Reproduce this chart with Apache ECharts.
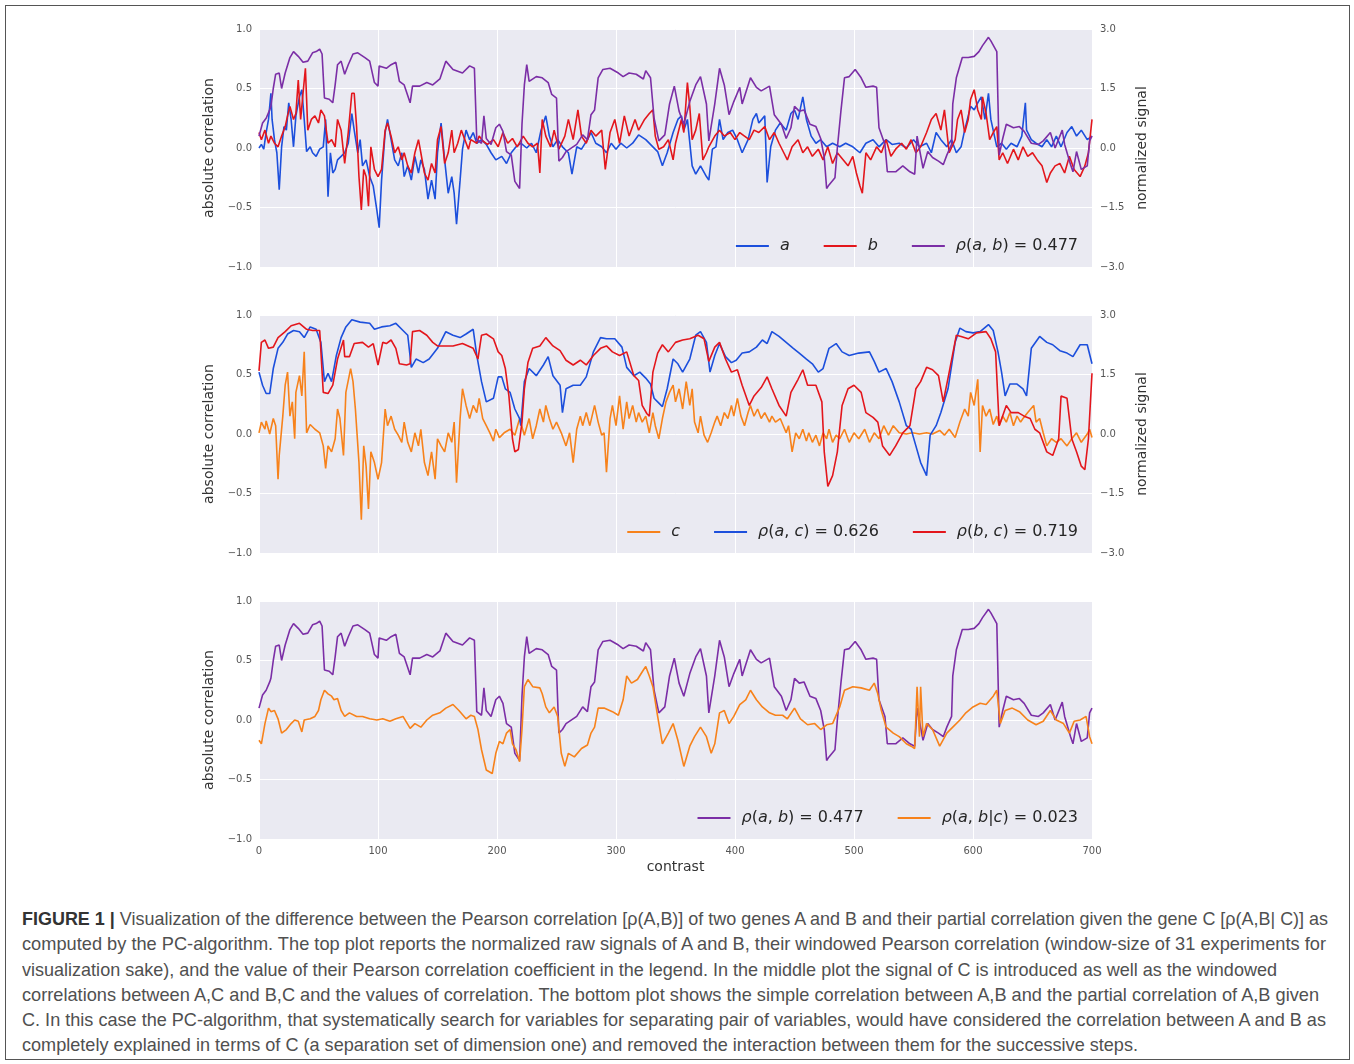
<!DOCTYPE html>
<html>
<head>
<meta charset="utf-8">
<script src="https://cdn.jsdelivr.net/npm/echarts@6/dist/echarts.min.js"></script>
<style>
  html, body { margin: 0; padding: 0; background: #fff; }
  #frame { position: absolute; left: 5px; top: 5px; width: 1343px; height: 1053px; border: 1px solid #555; }
  #chart { position: absolute; left: 0; top: 0; width: 1354px; height: 890px; }
  #caption { position: absolute; left: 22px; top: 906px; font-family: "Liberation Sans", Arial, sans-serif; font-size: 18.5px; color: #505050; line-height: 25.3px; white-space: nowrap; }
  #caption span.ln { display: inline-block; transform-origin: 0 50%; }
  #caption b { color: #333; }
</style>
</head>
<body>
<div id="frame"></div>
<div id="chart"></div>
<div id="caption">
<div><span class="ln"><b>FIGURE 1 |</b> Visualization of the difference between the Pearson correlation [ρ(A,B)] of two genes A and B and their partial correlation given the gene C [ρ(A,B| C)] as</span></div>
<div><span class="ln">computed by the PC-algorithm. The top plot reports the normalized raw signals of A and B, their windowed Pearson correlation (window-size of 31 experiments for</span></div>
<div><span class="ln">visualization sake), and the value of their Pearson correlation coefficient in the legend. In the middle plot the signal of C is introduced as well as the windowed</span></div>
<div><span class="ln">correlations between A,C and B,C and the values of correlation. The bottom plot shows the simple correlation between A,B and the partial correlation of A,B given</span></div>
<div><span class="ln">C. In this case the PC-algorithm, that systematically search for variables for separating pair of variables, would have considered the correlation between A and B as</span></div>
<div><span class="ln">completely explained in terms of C (a separation set of dimension one) and removed the interaction between them for the successive steps.</span></div>
</div>
<script>
// ---- tick labels ----
const xTicks = [0, 100, 200, 300, 400, 500, 600, 700];
const corrTicks = [-1.0, -0.5, 0.0, 0.5, 1.0];
const signalTicks = [-3.0, -1.5, 0.0, 1.5, 3.0];

// ---- legend labels ----
const legendA = 'a', legendB = 'b', legendC = 'c';
const rhoAbValue = '0.477', rhoAcValue = '0.626', rhoBcValue = '0.719', rhoAbGivenCValue = '0.023';

// ---- windowed correlation rho(a,b) [x, value] (left axis) ----
const rhoAB = [[0,0.10],[3,0.21],[6,0.25],[9,0.32],[10,0.35],[12,0.50],[14,0.62],[17,0.63],[19,0.50],[22,0.63],[26,0.76],[29,0.81],[33,0.77],[37,0.72],[41,0.73],[45,0.80],[48,0.81],[51,0.83],[53,0.79],[55,0.42],[59,0.41],[62,0.38],[64,0.53],[66,0.70],[69,0.73],[72,0.62],[75,0.70],[79,0.79],[83,0.80],[89,0.76],[93,0.73],[97,0.55],[100,0.52],[101,0.69],[107,0.67],[111,0.70],[115,0.72],[118,0.56],[122,0.53],[127,0.38],[129,0.52],[135,0.52],[141,0.55],[146,0.53],[152,0.58],[157,0.73],[163,0.66],[171,0.63],[177,0.69],[181,0.67],[183,0.07],[187,0.04],[189,0.27],[191,0.08],[195,0.03],[199,0.17],[202,0.20],[205,0.14],[208,-0.03],[212,-0.06],[215,-0.28],[219,-0.34],[221,0.20],[223,0.53],[225,0.70],[227,0.56],[233,0.60],[238,0.59],[243,0.55],[246,0.45],[250,0.42],[252,-0.11],[255,-0.08],[258,-0.03],[267,0.03],[272,0.11],[276,0.07],[279,0.28],[282,0.32],[285,0.59],[289,0.66],[295,0.67],[302,0.63],[306,0.60],[311,0.63],[317,0.62],[323,0.58],[325,0.65],[329,0.59],[332,0.25],[336,0.06],[341,0.11],[345,0.37],[349,0.52],[353,0.31],[357,0.20],[362,0.39],[367,0.53],[371,0.60],[376,0.37],[378,0.06],[383,0.37],[387,0.67],[391,0.53],[395,0.28],[399,0.39],[404,0.51],[406,0.37],[413,0.59],[418,0.51],[422,0.48],[429,0.52],[433,0.28],[439,0.20],[443,0.08],[447,0.17],[450,0.35],[454,0.31],[458,0.32],[463,0.20],[468,0.18],[472,0.08],[475,-0.08],[477,-0.34],[479,-0.31],[484,-0.25],[486,0.0],[489,0.31],[492,0.59],[496,0.60],[501,0.66],[506,0.59],[510,0.51],[516,0.52],[519,0.51],[521,0.17],[526,0.03],[528,-0.20],[535,-0.20],[541,-0.15],[547,-0.20],[551,-0.22],[553,0.10],[558,-0.17],[562,-0.03],[566,-0.08],[571,-0.11],[575,-0.14],[578,-0.06],[582,0.03],[583,0.37],[586,0.59],[591,0.76],[596,0.76],[601,0.77],[605,0.81],[608,0.86],[613,0.93],[615,0.90],[620,0.81],[622,-0.06],[625,0.08],[628,0.20],[634,0.17],[639,0.18],[643,0.14],[649,0.04],[655,0.03],[659,0.06],[665,0.13],[669,0.0],[675,0.15],[677,0.03],[682,-0.14],[684,-0.20],[687,-0.03],[691,-0.18],[696,-0.15],[698,0.06],[700,0.10]];

// ---- partial correlation rho(a,b|c) ----
const rhoABgivenC = [[0,-0.17],[2,-0.20],[5,-0.03],[8,0.10],[10,0.07],[13,0.08],[16,0.01],[19,-0.11],[23,-0.08],[27,-0.03],[30,0.0],[33,-0.01],[36,-0.10],[38,0.0],[43,0.01],[47,0.03],[50,0.08],[52,0.17],[55,0.25],[58,0.22],[61,0.20],[63,0.17],[66,0.18],[69,0.08],[72,0.03],[76,0.06],[82,0.03],[87,0.03],[93,0.01],[99,0.0],[104,0.01],[110,-0.01],[115,0.01],[121,0.03],[127,-0.07],[131,-0.03],[136,-0.06],[141,0.0],[146,0.04],[152,0.06],[157,0.10],[163,0.13],[168,0.08],[174,0.01],[178,0.04],[181,0.03],[184,-0.08],[187,-0.25],[191,-0.42],[196,-0.45],[199,-0.28],[202,-0.18],[205,-0.20],[208,-0.11],[211,-0.08],[213,-0.20],[216,-0.25],[219,-0.35],[221,-0.08],[223,0.28],[226,0.34],[230,0.28],[236,0.27],[238,0.22],[241,0.11],[244,0.06],[248,0.11],[251,0.03],[254,-0.28],[257,-0.39],[260,-0.28],[265,-0.31],[271,-0.24],[276,-0.21],[279,-0.11],[282,-0.06],[285,0.10],[290,0.10],[297,0.07],[302,0.04],[306,0.17],[309,0.37],[313,0.31],[318,0.34],[323,0.42],[325,0.45],[328,0.37],[331,0.28],[335,0.03],[339,-0.20],[344,-0.11],[348,-0.03],[352,-0.17],[357,-0.39],[362,-0.22],[366,-0.14],[371,-0.06],[376,-0.14],[380,-0.28],[383,-0.20],[387,0.06],[391,0.08],[395,-0.03],[399,0.03],[404,0.13],[409,0.17],[413,0.25],[418,0.17],[423,0.11],[429,0.06],[434,0.04],[440,0.04],[444,0.01],[450,0.10],[455,0.01],[461,-0.04],[467,-0.03],[472,-0.08],[477,-0.04],[482,-0.03],[488,0.11],[492,0.25],[499,0.28],[506,0.27],[513,0.25],[517,0.31],[520,0.22],[523,0.08],[527,-0.06],[533,-0.11],[538,-0.14],[544,-0.20],[548,-0.22],[551,-0.24],[553,0.28],[555,-0.14],[556,0.28],[558,-0.14],[561,-0.03],[566,-0.08],[572,-0.22],[578,-0.11],[583,-0.06],[589,0.0],[594,0.06],[600,0.11],[606,0.14],[611,0.13],[617,0.20],[620,0.25],[623,-0.03],[627,0.08],[633,0.10],[639,0.07],[646,0.0],[653,-0.04],[659,-0.01],[665,0.08],[670,0.0],[676,-0.03],[681,-0.11],[685,-0.01],[690,0.0],[695,0.03],[698,-0.14],[700,-0.20]];

// ---- windowed correlation rho(a,c) ----
const rhoAC = [[0,0.52],[3,0.41],[6,0.34],[9,0.34],[12,0.55],[16,0.72],[20,0.77],[24,0.84],[29,0.87],[34,0.86],[38,0.81],[43,0.90],[48,0.88],[52,0.77],[55,0.44],[58,0.51],[61,0.44],[65,0.66],[69,0.81],[73,0.90],[78,0.96],[85,0.94],[93,0.93],[97,0.88],[103,0.90],[110,0.91],[115,0.93],[121,0.87],[125,0.83],[128,0.56],[132,0.63],[138,0.60],[143,0.63],[150,0.72],[157,0.86],[163,0.83],[169,0.81],[174,0.84],[180,0.88],[183,0.66],[187,0.44],[191,0.27],[197,0.30],[201,0.48],[204,0.48],[207,0.38],[211,0.35],[215,0.21],[219,0.13],[220,0.07],[223,0.44],[227,0.55],[233,0.49],[239,0.58],[243,0.65],[247,0.49],[253,0.41],[255,0.18],[258,0.38],[264,0.41],[270,0.41],[275,0.48],[281,0.69],[287,0.81],[292,0.80],[299,0.80],[305,0.73],[309,0.56],[315,0.49],[320,0.52],[325,0.47],[329,0.42],[332,0.30],[335,0.27],[339,0.23],[343,0.38],[348,0.63],[352,0.59],[356,0.52],[362,0.63],[367,0.83],[371,0.86],[376,0.77],[379,0.52],[383,0.66],[387,0.76],[392,0.65],[397,0.60],[401,0.62],[406,0.68],[412,0.69],[418,0.73],[423,0.79],[427,0.76],[431,0.86],[437,0.82],[443,0.77],[449,0.72],[454,0.68],[460,0.63],[465,0.59],[470,0.52],[474,0.55],[479,0.72],[485,0.76],[490,0.69],[496,0.66],[504,0.68],[513,0.69],[517,0.61],[521,0.52],[527,0.55],[532,0.44],[538,0.27],[544,0.07],[548,0.04],[552,-0.10],[556,-0.24],[561,-0.35],[564,-0.01],[569,0.07],[573,0.18],[579,0.38],[585,0.77],[589,0.89],[594,0.86],[600,0.85],[606,0.86],[613,0.92],[617,0.87],[621,0.69],[624,0.52],[627,0.32],[631,0.42],[637,0.42],[642,0.38],[645,0.32],[649,0.72],[656,0.82],[662,0.77],[667,0.75],[673,0.70],[679,0.68],[684,0.65],[690,0.75],[696,0.75],[700,0.59]];

// ---- windowed correlation rho(b,c) ----
const rhoBC = [[0,0.53],[2,0.77],[5,0.79],[8,0.72],[12,0.73],[16,0.81],[22,0.86],[27,0.91],[34,0.93],[40,0.88],[45,0.87],[51,0.87],[54,0.35],[58,0.34],[62,0.41],[66,0.63],[71,0.79],[72,0.65],[76,0.65],[80,0.76],[87,0.77],[92,0.73],[96,0.76],[100,0.58],[104,0.77],[107,0.76],[111,0.79],[115,0.72],[118,0.59],[124,0.58],[127,0.59],[129,0.86],[135,0.87],[141,0.83],[146,0.77],[150,0.74],[157,0.74],[163,0.74],[171,0.76],[180,0.72],[184,0.63],[187,0.83],[191,0.84],[197,0.80],[201,0.69],[204,0.66],[207,0.55],[210,0.32],[213,-0.04],[215,-0.15],[218,-0.13],[221,0.10],[223,0.38],[226,0.60],[230,0.72],[236,0.74],[241,0.81],[247,0.74],[253,0.70],[258,0.62],[264,0.58],[270,0.62],[275,0.58],[281,0.66],[287,0.72],[292,0.74],[297,0.69],[303,0.66],[309,0.69],[315,0.49],[319,0.45],[322,0.24],[326,0.17],[328,0.15],[331,0.52],[335,0.68],[339,0.75],[344,0.69],[350,0.77],[356,0.79],[362,0.80],[369,0.83],[374,0.80],[378,0.61],[383,0.73],[387,0.77],[392,0.63],[397,0.52],[402,0.54],[406,0.41],[412,0.24],[416,0.32],[422,0.39],[427,0.48],[431,0.38],[437,0.24],[443,0.15],[447,0.35],[453,0.46],[457,0.54],[461,0.41],[468,0.41],[473,0.27],[475,-0.15],[478,-0.44],[482,-0.35],[486,-0.15],[490,0.24],[495,0.38],[500,0.41],[506,0.35],[510,0.18],[516,0.14],[520,0.10],[524,-0.10],[530,-0.18],[535,-0.10],[541,0.01],[547,0.07],[552,0.38],[556,0.44],[561,0.56],[566,0.54],[571,0.49],[575,0.27],[580,0.52],[586,0.83],[590,0.82],[596,0.80],[603,0.85],[611,0.86],[615,0.80],[619,0.69],[622,0.07],[628,0.24],[632,0.18],[638,0.18],[643,0.15],[648,0.13],[652,0.04],[656,0.01],[662,-0.15],[667,-0.18],[672,-0.04],[674,0.32],[679,0.30],[683,-0.04],[687,-0.15],[691,-0.27],[694,-0.30],[697,-0.04],[700,0.51]];

// ---- normalized signal of gene A (right axis) ----
const signalA = [[0,0],[2,0.09],[4,-0.03],[6,0.39],[8,0.72],[10,1.38],[11,0.72],[13,0.21],[15,-0.12],[17,-1.05],[19,0.03],[21,0.54],[23,0.45],[25,1.14],[27,0.72],[29,0.03],[31,0.81],[34,1.29],[36,1.47],[38,0.72],[40,-0.09],[43,0.03],[45,-0.12],[48,-0.21],[51,-0.03],[54,0.03],[56,0.72],[58,-1.23],[60,-0.12],[62,-0.63],[64,-0.54],[66,-0.30],[69,-0.21],[72,-0.12],[75,0.12],[78,0.87],[80,0.45],[83,-0.12],[85,0.21],[87,-0.45],[90,-0.30],[93,-0.72],[96,-0.96],[99,-1.56],[101,-2.01],[103,-0.81],[106,0.39],[108,0.72],[111,0.21],[114,-0.30],[117,-0.45],[120,-0.12],[122,-0.72],[125,-0.45],[128,-0.81],[131,-0.21],[134,-0.63],[136,-0.30],[139,-0.54],[142,-1.29],[145,-0.81],[148,-1.29],[150,-0.12],[153,0.63],[156,-0.30],[159,-1.14],[162,-0.72],[164,-1.14],[166,-1.92],[169,-0.81],[171,-0.03],[174,0.45],[177,0.21],[180,0.39],[183,0.12],[187,0.21],[191,0.09],[195,-0.12],[199,-0.30],[204,-0.21],[208,-0.39],[212,-0.12],[216,0.03],[220,0.12],[225,0],[229,0.12],[233,-0.12],[237,0.45],[241,0.81],[244,0.30],[247,0.03],[251,0.21],[255,0.03],[260,-0.12],[263,-0.66],[267,0.03],[271,-0.03],[276,0.21],[279,0.39],[283,0.12],[288,0.03],[292,-0.12],[296,0.12],[300,-0.03],[304,0.12],[309,0],[314,0.12],[319,0.33],[325,0.21],[331,0.03],[335,-0.09],[339,-0.45],[343,-0.12],[348,0.39],[352,0.72],[355,0.81],[357,0.45],[360,0.72],[364,-0.45],[367,-0.66],[371,-0.45],[376,-0.72],[378,-0.81],[381,-0.03],[384,0.03],[387,0.72],[390,0.21],[394,0.39],[398,0.45],[402,0.21],[406,-0.12],[411,0.21],[415,0.72],[418,0.87],[420,0.63],[425,0.81],[427,-0.87],[430,0.03],[434,0.45],[438,0.63],[443,0.45],[447,0.87],[450,0.96],[453,0.72],[457,1.29],[460,0.72],[464,0.30],[468,0.12],[472,0.21],[477,0.03],[482,0.12],[488,0.03],[493,0.12],[499,0.03],[505,-0.12],[510,0.12],[516,0.21],[521,0.03],[527,0.21],[532,0.09],[538,0.12],[544,0],[550,0.21],[555,0.03],[561,0.12],[565,-0.12],[569,0.39],[573,0.21],[578,0.03],[582,0.21],[586,-0.12],[590,0.03],[593,0.45],[596,0.81],[598,1.05],[601,0.96],[604,1.14],[607,1.29],[610,0.72],[613,1.38],[615,0.72],[620,0.03],[624,0.12],[628,-0.03],[632,0.12],[637,0.03],[641,0.30],[644,1.14],[645,0.45],[649,0.21],[653,0.12],[658,0.03],[662,0.21],[666,0.03],[670,0.30],[674,0.03],[679,0.39],[683,0.54],[687,0.30],[691,0.45],[696,0.21],[700,0.30]];

// ---- normalized signal of gene B (right axis) ----
const signalB = [[0,0.39],[2,0.21],[5,0.45],[8,0.12],[10,0.30],[13,0.12],[16,0.03],[19,0.30],[22,0.54],[24,0.81],[26,1.05],[29,0.72],[31,0.87],[33,1.71],[35,0.72],[37,1.38],[39,2.01],[41,0.45],[44,0.72],[47,0.81],[50,0.63],[52,0.96],[55,0.81],[58,0.12],[61,0.21],[64,0.03],[66,0.72],[69,0.45],[72,-0.39],[75,0.39],[78,1.38],[80,1.38],[82,0.54],[84,-0.72],[86,-1.56],[88,-0.54],[90,-0.72],[92,-1.47],[94,0.03],[97,-0.54],[100,-0.72],[103,-0.54],[106,0.45],[108,0.63],[111,0.30],[114,-0.12],[117,0.03],[120,-0.30],[122,-0.12],[125,-0.45],[128,-0.63],[131,-0.12],[134,0.21],[136,-0.12],[139,-0.63],[142,-0.81],[145,-0.39],[148,-0.63],[150,0.21],[153,0.54],[156,-0.39],[159,-0.12],[162,0.45],[164,-0.12],[167,0.12],[170,0.45],[173,0.21],[176,-0.03],[178,0.21],[183,0.12],[185,0.30],[188,0.18],[192,0.09],[197,0.21],[201,0.03],[205,0.39],[209,0.12],[213,0.24],[217,0.03],[222,0.30],[226,0.12],[230,0.03],[234,0.12],[236,-0.63],[238,0.72],[241,0.30],[245,0.03],[248,0.45],[252,-0.03],[257,0.30],[260,0.72],[264,0.21],[268,0.96],[271,0.30],[275,0.12],[279,0.45],[283,0.30],[288,0.45],[291,-0.54],[295,0.39],[299,0.72],[303,0.12],[307,0.81],[311,0.30],[316,0.72],[319,0.45],[324,0.72],[328,0.87],[331,0.96],[333,0.30],[336,-0.03],[340,0.03],[344,0.21],[348,-0.30],[350,0.12],[355,0.72],[357,0.39],[360,1.65],[362,1.05],[364,0.21],[367,0.45],[370,0.87],[373,-0.30],[376,-0.12],[378,0.03],[383,0.30],[387,0.45],[391,0.30],[396,0.39],[400,0.21],[404,0.39],[408,0.30],[412,0.21],[416,0.45],[420,0.39],[425,0.54],[429,0.21],[433,0.39],[437,0.12],[441,-0.12],[444,-0.30],[448,0.03],[453,0.21],[457,-0.12],[461,0.03],[465,-0.21],[470,-0.03],[474,-0.30],[478,0.03],[482,-0.39],[486,-0.12],[491,-0.30],[495,-0.45],[499,-0.21],[502,-0.63],[505,-0.96],[507,-1.14],[510,-0.12],[514,-0.30],[519,0.03],[523,-0.12],[527,0.21],[531,-0.21],[535,-0.03],[540,0.12],[544,-0.03],[548,0.21],[552,-0.12],[556,0.03],[561,0.39],[565,0.72],[569,0.87],[573,0.45],[576,0.96],[580,-0.12],[585,0.21],[587,0.72],[590,0.96],[593,0.39],[596,0.72],[598,1.23],[601,1.47],[604,0.96],[607,0.72],[608,1.29],[611,0.87],[614,0.21],[617,0.39],[620,0.54],[622,-0.30],[625,-0.12],[629,-0.39],[634,-0.03],[638,-0.30],[642,0.03],[646,-0.21],[650,-0.12],[654,-0.30],[658,-0.45],[662,-0.87],[665,-0.63],[669,-0.45],[673,-0.39],[677,-0.63],[681,-0.21],[685,-0.54],[690,-0.72],[694,-0.45],[697,-0.12],[700,0.72]];

// ---- normalized signal of gene C (right axis) ----
const signalC = [[0,0.03],[2,0.30],[5,0.12],[6,0.33],[9,0],[12,0.39],[14,0.21],[16,-1.14],[17,-0.54],[20,0.45],[22,1.23],[24,1.56],[26,0.45],[28,0.81],[30,-0.12],[31,1.05],[34,1.47],[36,0.96],[38,2.07],[40,0.03],[43,0.24],[47,0.12],[51,0.03],[54,-0.30],[56,-0.87],[58,-0.30],[61,-0.45],[64,-0.12],[66,0.63],[68,0.39],[71,-0.54],[73,1.05],[77,1.65],[79,1.32],[81,0.63],[84,-0.72],[86,-2.16],[88,-0.30],[90,-0.81],[92,-1.89],[94,-0.45],[97,-0.72],[100,-1.14],[103,-0.72],[106,0.63],[108,0.21],[111,0.45],[114,0.12],[117,-0.03],[120,-0.21],[122,0.30],[125,-0.21],[128,-0.45],[131,0.03],[134,-0.30],[136,0.12],[139,-0.72],[142,-1.05],[145,-0.45],[148,-1.14],[150,-0.12],[153,-0.30],[156,-0.45],[159,0.03],[162,-0.21],[164,0.30],[166,-1.23],[169,0.39],[171,1.14],[174,0.72],[177,0.39],[180,0.72],[183,0.54],[185,0.90],[188,0.39],[191,0.21],[194,0.03],[197,-0.18],[199,0.12],[202,-0.09],[206,0.03],[211,0.12],[215,-0.03],[219,0.39],[223,-0.03],[227,0.39],[230,-0.12],[233,0.21],[236,0.63],[239,0.30],[241,0.72],[244,0.39],[247,0.12],[250,0.30],[254,0.03],[258,-0.30],[261,0.03],[264,-0.72],[267,0.12],[270,0.45],[272,0.21],[275,0.54],[278,0.21],[282,0.72],[285,0.30],[288,-0.03],[290,0.03],[292,-0.96],[295,0.39],[297,0.72],[300,0.21],[303,0.96],[306,0.12],[309,0.81],[311,0.39],[314,0.72],[317,0.30],[319,0.54],[322,0.30],[325,0.45],[328,0.03],[331,0.54],[333,0.21],[336,-0.12],[339,0.39],[342,0.81],[345,1.05],[348,1.23],[350,0.81],[353,1.14],[356,0.63],[359,1.32],[362,0.72],[364,1.14],[366,0.30],[369,0.03],[371,0.45],[374,-0.03],[377,-0.21],[380,0.03],[383,0.30],[385,0.45],[388,0.21],[391,0.54],[394,0.39],[397,0.72],[399,0.45],[402,0.90],[405,0.45],[408,0.21],[411,0.54],[413,0.72],[416,0.45],[419,0.63],[422,0.39],[425,0.54],[429,0.30],[431,0.45],[434,0.30],[438,0.39],[443,0.03],[445,0.21],[448,-0.45],[451,0.03],[454,-0.12],[457,0.12],[460,-0.18],[462,0.03],[465,-0.21],[468,-0.03],[471,-0.30],[474,0.03],[477,-0.12],[479,0.12],[482,-0.21],[485,-0.03],[488,-0.12],[492,0.12],[496,-0.21],[500,0.03],[504,-0.12],[509,0.12],[513,-0.21],[517,0.03],[521,-0.12],[525,0.21],[529,-0.03],[533,0.21],[538,0.03],[544,0],[549,0.03],[555,0],[561,0.03],[566,0],[572,0.09],[576,-0.03],[580,0.12],[585,-0.09],[589,0.30],[593,0.63],[596,0.45],[598,1.05],[601,0.72],[604,1.38],[606,-0.45],[608,0.72],[611,0.45],[614,0.63],[617,0.24],[620,0.45],[622,0.21],[625,0.45],[628,0.30],[631,0.54],[634,0.21],[637,0.45],[640,0.30],[642,0.39],[646,0.54],[651,0.72],[653,0.30],[656,0.39],[659,0.03],[662,-0.30],[666,-0.12],[670,-0.21],[674,-0.12],[679,-0.30],[683,-0.12],[687,0.03],[691,-0.21],[696,0],[698,0.12],[700,-0.09]];

// ---- styling ----
const COL_BLUE = '#1c4fdc', COL_RED = '#e3161c', COL_PURPLE = '#7b2ea6', COL_ORANGE = '#f7821b';
const BG = '#EAEAF2';
const FONT = 'DejaVu Sans';
const minus = v => (v < 0 ? '\u2212' : '') + Math.abs(v).toFixed(1);

const gridTops = [29, 315, 601];
const grids = gridTops.map(t => ({ left: 259, top: t, width: 833, height: 238, show: true, backgroundColor: BG, borderWidth: 0, containLabel: false }));

const xAxes = [0, 1, 2].map(i => ({
  type: 'value', gridIndex: i, min: xTicks[0], max: xTicks[xTicks.length - 1], interval: 100,
  axisLine: { show: false }, axisTick: { show: false },
  axisLabel: { show: i === 2, color: '#555', fontSize: 10, fontFamily: FONT, margin: 7 },
  splitLine: { show: true, lineStyle: { color: '#fff', width: 1 } },
  name: i === 2 ? 'contrast' : '', nameLocation: 'middle', nameGap: 21,
  nameTextStyle: { color: '#333', fontSize: 14, fontFamily: FONT }
}));

function leftAxis(g) {
  return {
    type: 'value', gridIndex: g, position: 'left', min: corrTicks[0], max: corrTicks[corrTicks.length - 1], interval: 0.5,
    axisLine: { show: false }, axisTick: { show: false },
    axisLabel: { color: '#555', fontSize: 10, fontFamily: FONT, margin: 7, formatter: minus },
    splitLine: { show: true, lineStyle: { color: '#fff', width: 1 } },
    name: 'absolute correlation', nameLocation: 'middle', nameGap: 27, nameRotate: 90,
    nameTextStyle: { color: '#333', fontSize: 14, fontFamily: FONT }
  };
}
function rightAxis(g) {
  return {
    type: 'value', gridIndex: g, position: 'right', min: signalTicks[0], max: signalTicks[signalTicks.length - 1], interval: 1.5,
    axisLine: { show: false }, axisTick: { show: false },
    axisLabel: { color: '#555', fontSize: 10, fontFamily: FONT, margin: 8, formatter: minus },
    splitLine: { show: false },
    name: 'normalized signal', nameLocation: 'middle', nameGap: 25, nameRotate: 90,
    nameTextStyle: { color: '#333', fontSize: 14, fontFamily: FONT }
  };
}
const yAxes = [leftAxis(0), rightAxis(0), leftAxis(1), rightAxis(1), leftAxis(2)];

function line(name, data, color, xi, yi) {
  return { type: 'line', name, data, xAxisIndex: xi, yAxisIndex: yi, showSymbol: false, symbol: 'none',
    lineStyle: { color, width: 1.6 }, itemStyle: { color }, emphasis: { disabled: true }, animation: false };
}

const series = [
  line('a', signalA, COL_BLUE, 0, 1),
  line('b', signalB, COL_RED, 0, 1),
  line('rab1', rhoAB, COL_PURPLE, 0, 0),
  line('c', signalC, COL_ORANGE, 1, 3),
  line('rac', rhoAC, COL_BLUE, 1, 2),
  line('rbc', rhoBC, COL_RED, 1, 2),
  line('rab3', rhoAB, COL_PURPLE, 2, 4),
  line('rabc', rhoABgivenC, COL_ORANGE, 2, 4)
];

const labels = {
  a: '{i|' + legendA + '}',
  b: '{i|' + legendB + '}',
  c: '{i|' + legendC + '}',
  rab1: '{i|ρ}{n|(}{i|a}{n|, }{i|b}{n|) = ' + rhoAbValue + '}',
  rab3: '{i|ρ}{n|(}{i|a}{n|, }{i|b}{n|) = ' + rhoAbValue + '}',
  rac: '{i|ρ}{n|(}{i|a}{n|, }{i|c}{n|) = ' + rhoAcValue + '}',
  rbc: '{i|ρ}{n|(}{i|b}{n|, }{i|c}{n|) = ' + rhoBcValue + '}',
  rabc: '{i|ρ}{n|(}{i|a}{n|, }{i|b}{n||}{i|c}{n|) = ' + rhoAbGivenCValue + '}'
};
function legend(names, top) {
  return {
    data: names, right: 271, top, orient: 'horizontal', icon: 'rect', itemWidth: 33, itemHeight: 2, itemGap: 34,
    selectedMode: false, formatter: n => labels[n],
    textStyle: { color: '#262626', fontSize: 16, fontFamily: FONT, padding: [0, 0, 0, 6],
      rich: { i: { fontStyle: 'italic', fontSize: 16, fontFamily: FONT, color: '#262626' },
              n: { fontSize: 16, fontFamily: FONT, color: '#262626' } } }
  };
}

const chart = echarts.init(document.getElementById('chart'), null, { renderer: 'canvas' });
chart.setOption({
  backgroundColor: 'transparent',
  animation: false,
  grid: grids,
  xAxis: xAxes,
  yAxis: yAxes,
  legend: [legend(['a', 'b', 'rab1'], 233), legend(['c', 'rac', 'rbc'], 519), legend(['rab3', 'rabc'], 805)],
  series
});

// fit each caption line to the width it has in the original figure
const lineWidths = [1306, 1304, 1255, 1297, 1304, 1116];
document.querySelectorAll('#caption span.ln').forEach((s, i) => {
  const k = lineWidths[i] / s.getBoundingClientRect().width;
  s.style.transform = 'scaleX(' + k.toFixed(4) + ')';
});
</script>
</body>
</html>
